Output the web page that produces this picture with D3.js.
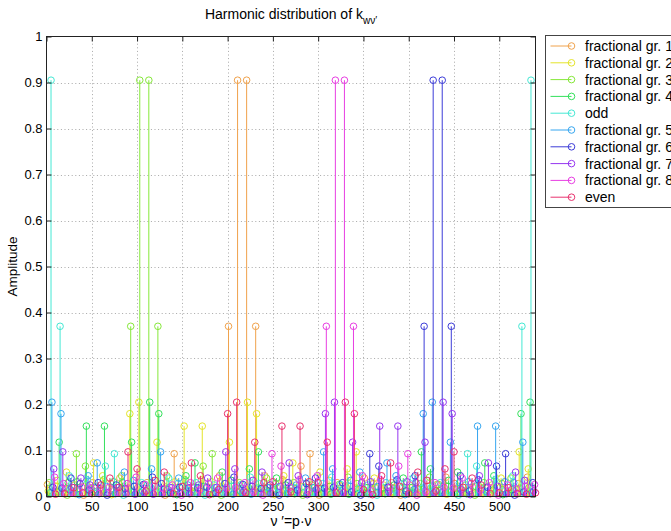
<!DOCTYPE html>
<html>
<head>
<meta charset="utf-8">
<script src="https://cdn.jsdelivr.net/npm/d3@7"></script>
<style>
body{margin:0;background:#fff;}
text{font-family:"Liberation Sans",Arial,Helvetica,sans-serif;fill:#000;}
</style>
</head>
<body>
<div id="chart"></div>
<script>
/* Harmonic distribution of k_wv' - stem plot, one series per harmonic group
   harmonic order of element i in a group = first + 10*i */
var groupNames=["fractional gr. 1","fractional gr. 2","fractional gr. 3","fractional gr. 4","odd",
"fractional gr. 5","fractional gr. 6","fractional gr. 7","fractional gr. 8","even"];
var groupFirst=[1,2,3,4,5,6,7,8,9,10];
var groupStep=10;
var groupColors=["#f0a24c","#e4e42a","#86e83a","#34e05c","#44e8d4","#36a6f0","#3c3cd8","#9636f0","#e83ee2","#e8326e"];

var gr1=[0.026,0.022,0.017,0.025,0.003,0.03,0.014,0.028,0.04,0.018,
0.02,0.03,0.01,0.003,0.093,0.066,0.02,0.036,0.012,0.045,
0.37,0.905,0.905,0.37,0.045,0.012,0.036,0.02,0.066,0.093,
0.003,0.01,0.03,0.02,0.018,0.04,0.028,0.014,0.03,0.003,
0.025,0.017,0.022,0.026,0.042,0.028,0.008,0.02,0.019,0.019,
0.02,0.008,0.028,0.042];
var gr2=[0.012,0.035,0.053,0.006,0.022,0.073,0.045,0.004,0.015,0.18,
0.205,0.008,0.118,0.03,0.032,0.153,0.01,0.153,0.032,0.03,
0.118,0.008,0.205,0.18,0.015,0.004,0.045,0.073,0.022,0.006,
0.053,0.035,0.012,0.06,0.097,0.02,0.04,0.025,0.006,0.008,
0.019,0.006,0.005,0.008,0.005,0.006,0.019,0.008,0.006,0.025,
0.04,0.02,0.097,0.06];
var gr3=[0.03,0.01,0.003,0.093,0.066,0.02,0.036,0.012,0.045,0.37,
0.905,0.905,0.37,0.045,0.012,0.036,0.02,0.066,0.093,0.003,
0.01,0.03,0.02,0.018,0.04,0.028,0.014,0.03,0.003,0.025,
0.017,0.022,0.026,0.042,0.028,0.008,0.02,0.019,0.019,0.02,
0.008,0.028,0.042,0.026,0.022,0.017,0.025,0.003,0.03,0.014,
0.028,0.04,0.018,0.02];
var gr4=[0.008,0.118,0.03,0.032,0.153,0.01,0.153,0.032,0.03,0.118,
0.008,0.205,0.18,0.015,0.004,0.045,0.073,0.022,0.006,0.053,
0.035,0.012,0.06,0.097,0.02,0.04,0.025,0.006,0.008,0.019,
0.006,0.005,0.008,0.005,0.006,0.019,0.008,0.006,0.025,0.04,
0.02,0.097,0.06,0.012,0.035,0.053,0.006,0.022,0.073,0.045,
0.004,0.015,0.18,0.205];
var odd=[0.905,0.37,0.045,0.012,0.036,0.02,0.066,0.093,0.003,0.01,
0.03,0.02,0.018,0.04,0.028,0.014,0.03,0.003,0.025,0.017,
0.022,0.026,0.042,0.028,0.008,0.02,0.019,0.019,0.02,0.008,
0.028,0.042,0.026,0.022,0.017,0.025,0.003,0.03,0.014,0.028,
0.04,0.018,0.02,0.03,0.01,0.003,0.093,0.066,0.02,0.036,
0.012,0.045,0.37,0.905];
var gr5=[0.205,0.18,0.015,0.004,0.045,0.073,0.022,0.006,0.053,0.035,
0.012,0.06,0.097,0.02,0.04,0.025,0.006,0.008,0.019,0.006,
0.005,0.008,0.005,0.006,0.019,0.008,0.006,0.025,0.04,0.02,
0.097,0.06,0.012,0.035,0.053,0.006,0.022,0.073,0.045,0.004,
0.015,0.18,0.205,0.008,0.118,0.03,0.032,0.153,0.01,0.153,
0.032,0.03,0.118,0.008];
var gr6=[0.02,0.018,0.04,0.028,0.014,0.03,0.003,0.025,0.017,0.022,
0.026,0.042,0.028,0.008,0.02,0.019,0.019,0.02,0.008,0.028,
0.042,0.026,0.022,0.017,0.025,0.003,0.03,0.014,0.028,0.04,
0.018,0.02,0.03,0.01,0.003,0.093,0.066,0.02,0.036,0.012,
0.045,0.37,0.905,0.905,0.37,0.045,0.012,0.036,0.02,0.066,
0.093,0.003,0.01,0.03];
var gr7=[0.06,0.097,0.02,0.04,0.025,0.006,0.008,0.019,0.006,0.005,
0.008,0.005,0.006,0.019,0.008,0.006,0.025,0.04,0.02,0.097,
0.06,0.012,0.035,0.053,0.006,0.022,0.073,0.045,0.004,0.015,
0.18,0.205,0.008,0.118,0.03,0.032,0.153,0.01,0.153,0.032,
0.03,0.118,0.008,0.205,0.18,0.015,0.004,0.045,0.073,0.022,
0.006,0.053,0.035,0.012];
var gr8=[0.042,0.028,0.008,0.02,0.019,0.019,0.02,0.008,0.028,0.042,
0.026,0.022,0.017,0.025,0.003,0.03,0.014,0.028,0.04,0.018,
0.02,0.03,0.01,0.003,0.093,0.066,0.02,0.036,0.012,0.045,
0.37,0.905,0.905,0.37,0.045,0.012,0.036,0.02,0.066,0.093,
0.003,0.01,0.03,0.02,0.018,0.04,0.028,0.014,0.03,0.003,
0.025,0.017,0.022,0.026];
var even=[0.005,0.006,0.019,0.008,0.006,0.025,0.04,0.02,0.097,0.06,
0.012,0.035,0.053,0.006,0.022,0.073,0.045,0.004,0.015,0.18,
0.205,0.008,0.118,0.03,0.032,0.153,0.01,0.153,0.032,0.03,
0.118,0.008,0.205,0.18,0.015,0.004,0.045,0.073,0.022,0.006,
0.053,0.035,0.012,0.06,0.097,0.02,0.04,0.025,0.006,0.008,
0.019,0.006,0.005,0.008];
var groupValues=[gr1,gr2,gr3,gr4,odd,gr5,gr6,gr7,gr8,even];

var xTicks=[0,50,100,150,200,250,300,350,400,450,500];
var yTicks=[0,0.1,0.2,0.3,0.4,0.5,0.6,0.7,0.8,0.9,1];

var W=671,H=531;
var box={l:46.5,r:535.5,t:36.5,b:496.5};

var svg=d3.select("#chart").append("svg")
.attr("width",W).attr("height",H)
.style("display","block").style("background","#fff");

var x=d3.scaleLinear().domain([0,540]).range([box.l,box.r]);
var y=d3.scaleLinear().domain([0,1]).range([box.b,box.t]);

// grid
var grid=svg.append("g").attr("stroke","#a8a8a8").attr("stroke-width",1).attr("stroke-dasharray","1,2.6");
grid.selectAll(".gx").data(xTicks.slice(1)).enter().append("line")
.attr("x1",function(d){return Math.round(x(d))+0.5;}).attr("x2",function(d){return Math.round(x(d))+0.5;})
.attr("y1",box.t).attr("y2",box.b);
grid.selectAll(".gy").data(yTicks.slice(1,-1)).enter().append("line")
.attr("y1",function(d){return Math.round(y(d))+0.5;}).attr("y2",function(d){return Math.round(y(d))+0.5;})
.attr("x1",box.l).attr("x2",box.r);

// stems
var plot=svg.append("g");
groupValues.forEach(function(vals,k){
  var pts=vals.map(function(v,i){return {nu:groupFirst[k]+groupStep*i,v:v};});
  var g=plot.append("g").attr("stroke",groupColors[k]).attr("fill","none").attr("stroke-width",1);
  g.selectAll("line").data(pts).enter().append("line")
  .attr("x1",function(d){return x(d.nu);}).attr("x2",function(d){return x(d.nu);})
  .attr("y1",y(0)).attr("y2",function(d){return y(d.v);});
  g.selectAll("circle").data(pts).enter().append("circle")
  .attr("cx",function(d){return x(d.nu);}).attr("cy",function(d){return y(d.v);})
  .attr("r",3.3);
});

// axes (ticks pointing in, MATLAB box style)
function styleAxis(sel){
  sel.select(".domain").remove();
  sel.selectAll(".tick line").attr("stroke","#222");
  sel.selectAll("text").style("font-size","13px").attr("fill","#000");
}
var fmt=function(d){return String(+d.toFixed(1));};
svg.append("g").attr("transform","translate(0,"+box.b+")")
.call(d3.axisBottom(x).tickValues(xTicks).tickSize(-5).tickPadding(5).tickFormat(fmt)).call(styleAxis);
svg.append("g").attr("transform","translate(0,"+box.t+")")
.call(d3.axisTop(x).tickValues(xTicks).tickSize(-5).tickFormat("")).call(styleAxis);
svg.append("g").attr("transform","translate("+box.l+",0)")
.call(d3.axisLeft(y).tickValues(yTicks).tickSize(-5).tickPadding(4).tickFormat(fmt)).call(styleAxis);
svg.append("g").attr("transform","translate("+box.r+",0)")
.call(d3.axisRight(y).tickValues(yTicks).tickSize(-5).tickFormat("")).call(styleAxis);

svg.append("rect").attr("x",box.l).attr("y",box.t)
.attr("width",box.r-box.l).attr("height",box.b-box.t)
.attr("fill","none").attr("stroke","#222").attr("stroke-width",1);

// title and labels
var title=svg.append("text").attr("x",(box.l+box.r)/2).attr("y",19)
.attr("text-anchor","middle").style("font-size","14px");
title.append("tspan").text("Harmonic distribution of k");
title.append("tspan").attr("dy",5).style("font-size","10px").text("wν′");

svg.append("text").attr("x",(box.l+box.r)/2).attr("y",526)
.attr("text-anchor","middle").style("font-size","14px").text("ν ′=p·ν");

svg.append("text").attr("transform","translate(17,"+((box.t+box.b)/2)+") rotate(-90)")
.attr("text-anchor","middle").style("font-size","13.5px").text("Amplitude");

// legend
var lg=svg.append("g").attr("transform","translate(545.5,35.5)");
lg.append("rect").attr("width",140).attr("height",172)
.attr("fill","#fff").attr("stroke","#444").attr("stroke-width",1);
groupNames.forEach(function(name,k){
  var yy=10.5+16.8*k;
  lg.append("line").attr("x1",5).attr("x2",26).attr("y1",yy).attr("y2",yy)
  .attr("stroke",groupColors[k]).attr("stroke-width",1);
  lg.append("circle").attr("cx",26).attr("cy",yy).attr("r",3.3)
  .attr("fill","none").attr("stroke",groupColors[k]).attr("stroke-width",1);
  lg.append("text").attr("x",39.5).attr("y",yy).attr("dy","0.36em")
  .style("font-size","14px").text(name);
});
</script>
</body>
</html>
